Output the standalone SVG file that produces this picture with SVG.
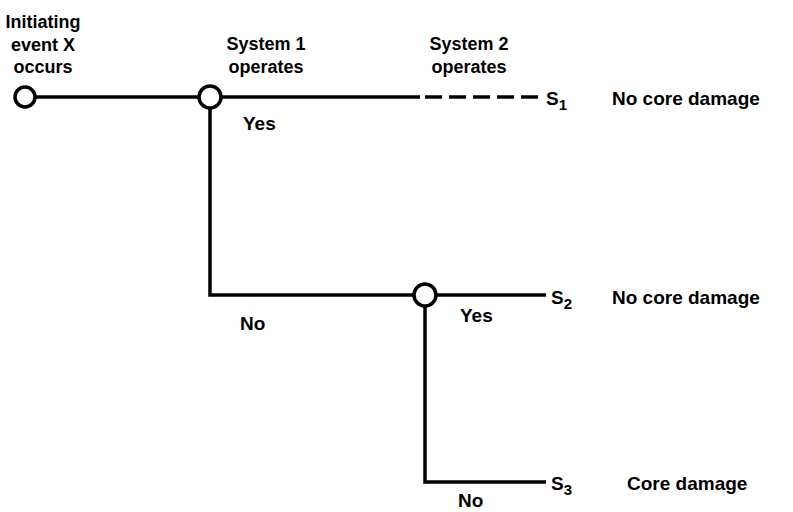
<svg xmlns="http://www.w3.org/2000/svg" width="793" height="512" viewBox="0 0 793 512">
<style>
text{font-family:"Liberation Sans",Arial,sans-serif;font-weight:bold;font-size:19px;fill:#000}
.h{font-size:18px;text-anchor:middle}
.sub{font-size:15px}
.ln{stroke:#000;stroke-width:3.5;fill:none}
.nd{stroke:#000;stroke-width:3.5;fill:#fff}
</style>
<rect width="793" height="512" fill="#fff"/>
<g id="headers">
<text class="h" x="43" y="28">Initiating</text>
<text class="h" x="43" y="51">event X</text>
<text class="h" x="43" y="73">occurs</text>
<text class="h" x="266" y="50">System 1</text>
<text class="h" x="266" y="73">operates</text>
<text class="h" x="469" y="50">System 2</text>
<text class="h" x="469" y="73">operates</text>
</g>
<g id="connectors">
<path class="ln" d="M36 97H199"/>
<path class="ln" d="M221 97H420"/>
<path class="ln" d="M425 97H542" stroke-dasharray="17 7"/>
<path class="ln" d="M210 108V295H414"/>
<path class="ln" d="M436 295H546"/>
<path class="ln" d="M425 306V482H546"/>
</g>
<g id="node-init"><circle class="nd" cx="25" cy="97" r="10"/></g>
<g id="node-sys1"><circle class="nd" cx="210" cy="97" r="11"/></g>
<g id="node-sys2"><circle class="nd" cx="425" cy="295" r="11"/></g>
<g id="labels">
<text x="243" y="130">Yes</text>
<text x="240" y="330">No</text>
<text x="460" y="322">Yes</text>
<text x="458" y="507">No</text>
</g>
<g id="outcome-s1">
<text x="546" y="105">S<tspan class="sub" dy="5">1</tspan></text>
<text x="612" y="105">No core damage</text>
</g>
<g id="outcome-s2">
<text x="551" y="304">S<tspan class="sub" dy="5">2</tspan></text>
<text x="612" y="304">No core damage</text>
</g>
<g id="outcome-s3">
<text x="551" y="490">S<tspan class="sub" dy="5">3</tspan></text>
<text x="627" y="490">Core damage</text>
</g>
</svg>
